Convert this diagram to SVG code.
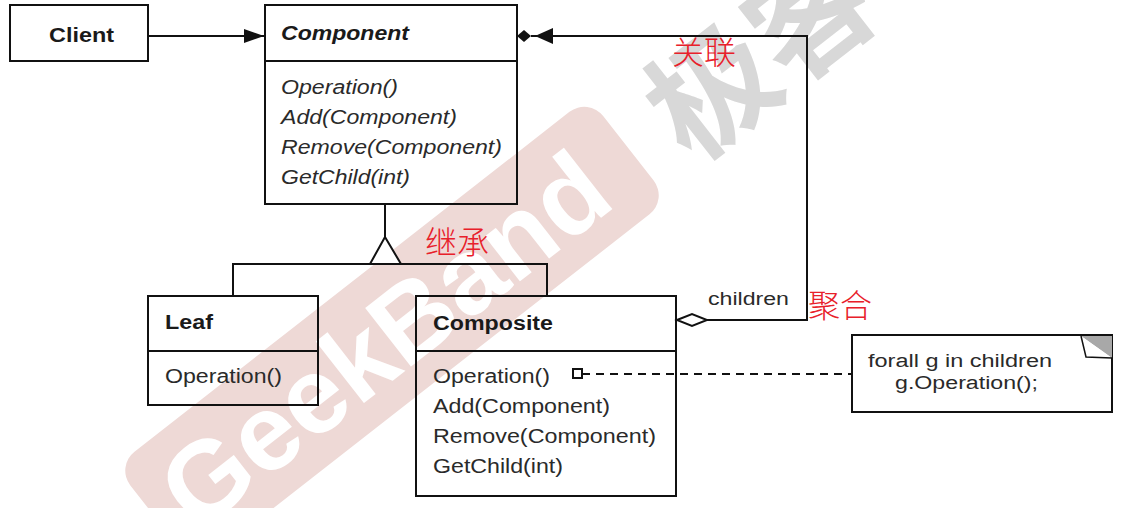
<svg xmlns="http://www.w3.org/2000/svg" width="1126" height="508" viewBox="0 0 1126 508">
<style>
.box{fill:none;stroke:#111;stroke-width:2}
.ln{fill:none;stroke:#111;stroke-width:2}
.t{font-family:"Liberation Sans",Arial,sans-serif;font-size:20px;fill:#2a2a2a}
.b{font-weight:bold;fill:#1a1a1a}
.i{font-style:italic}
.s{font-size:18px}
.red{font-family:"Noto Sans CJK SC",sans-serif;font-size:32px;fill:#e8202a;font-weight:300}
</style>
<defs>
<marker id="fa" markerWidth="20" markerHeight="16" refX="20" refY="8" orient="auto" markerUnits="userSpaceOnUse">
<path d="M0,1 L20,8 L0,15 Z" fill="#111"/>
</marker>
</defs>
<rect width="1126" height="508" fill="#fff"/>
<g id="watermark">
<g transform="translate(392,333) rotate(-38)">
<rect x="-300" y="-65" width="600" height="130" rx="24" fill="#eed9d6"/>
<text x="-10" y="38" text-anchor="middle" font-family="'Liberation Sans',Arial,sans-serif" font-weight="bold" font-size="108" fill="#fff">GeekBand</text>
</g>
<text transform="translate(790,88) rotate(-38)" text-anchor="middle" font-family="'Noto Sans CJK SC',sans-serif" font-weight="bold" font-size="125" fill="#d8d8d8">极客</text>
</g>
<g id="connectors">
<line class="ln" x1="148" y1="36" x2="264" y2="36" marker-end="url(#fa)"/>
<polyline class="ln" points="553,36 807,36 807,320 707,320"/>
<path d="M517,36 L524,30 L531,36 L524,42 Z" fill="#111"/>
<line class="ln" x1="531" y1="36" x2="537" y2="36"/>
<path d="M535,36 L553,28 L553,44 Z" fill="#111"/>
<path d="M677,320 L692,314 L707,320 L692,326 Z" fill="#fff" stroke="#111" stroke-width="2"/>
<line class="ln" x1="385" y1="205" x2="385" y2="237"/>
<path d="M385,237 L370,264 L401,264 Z" fill="#fff" stroke="#111" stroke-width="2"/>
<polyline class="ln" points="233,296 233,264 547,264 547,296"/>
<rect x="573" y="369" width="9" height="9" fill="#fff" stroke="#111" stroke-width="2"/>
<line class="ln" x1="582" y1="374" x2="852" y2="374" stroke-dasharray="8 6"/>
</g>
<g id="client">
<rect class="box" x="10" y="5" width="138" height="56" fill="#fff"/>
<text class="t b" x="49" y="42" font-size="21" textLength="65" lengthAdjust="spacingAndGlyphs">Client</text>
</g>
<g id="component">
<rect class="box" x="265" y="5" width="252" height="199"/>
<line class="ln" x1="265" y1="61" x2="517" y2="61"/>
<text class="t b i" x="281" y="40" textLength="128" lengthAdjust="spacingAndGlyphs">Component</text>
<text class="t i" x="281" y="94" textLength="117" lengthAdjust="spacingAndGlyphs">Operation()</text>
<text class="t i" x="281" y="124" textLength="176" lengthAdjust="spacingAndGlyphs">Add(Component)</text>
<text class="t i" x="281" y="154" textLength="221" lengthAdjust="spacingAndGlyphs">Remove(Component)</text>
<text class="t i" x="281" y="184" textLength="129" lengthAdjust="spacingAndGlyphs">GetChild(int)</text>
</g>
<g id="leaf">
<rect class="box" x="148" y="296" width="170" height="109"/>
<line class="ln" x1="148" y1="351" x2="318" y2="351"/>
<text class="t b" x="165" y="329" textLength="48" lengthAdjust="spacingAndGlyphs">Leaf</text>
<text class="t" x="165" y="383" textLength="117" lengthAdjust="spacingAndGlyphs">Operation()</text>
</g>
<g id="composite">
<rect class="box" x="416" y="296" width="260" height="200"/>
<line class="ln" x1="416" y1="351" x2="676" y2="351"/>
<text class="t b" x="433" y="330" textLength="120" lengthAdjust="spacingAndGlyphs">Composite</text>
<text class="t" x="433" y="383" textLength="117" lengthAdjust="spacingAndGlyphs">Operation()</text>
<text class="t" x="433" y="413" textLength="177" lengthAdjust="spacingAndGlyphs">Add(Component)</text>
<text class="t" x="433" y="443" textLength="223" lengthAdjust="spacingAndGlyphs">Remove(Component)</text>
<text class="t" x="433" y="473" textLength="130" lengthAdjust="spacingAndGlyphs">GetChild(int)</text>
</g>
<g id="note">
<rect class="box" x="852" y="335" width="260" height="77" fill="#fff"/>
<path d="M1081,336 L1112,336 L1112,358 Z" fill="#a8a8a8"/>
<path d="M1081,336 L1086,357 L1112,358" fill="#fff" stroke="#111" stroke-width="1.5"/>
<text class="t s" x="868" y="367" textLength="184" lengthAdjust="spacingAndGlyphs">forall g in children</text>
<text class="t s" x="895" y="389" textLength="143" lengthAdjust="spacingAndGlyphs">g.Operation();</text>
</g>
<g id="labels">
<text class="t s" x="708" y="305" textLength="81" lengthAdjust="spacingAndGlyphs">children</text>
<text class="red" x="672" y="64">关联</text>
<text class="red" x="425" y="254">继承</text>
<text class="red" x="808" y="317">聚合</text>
</g>
</svg>
